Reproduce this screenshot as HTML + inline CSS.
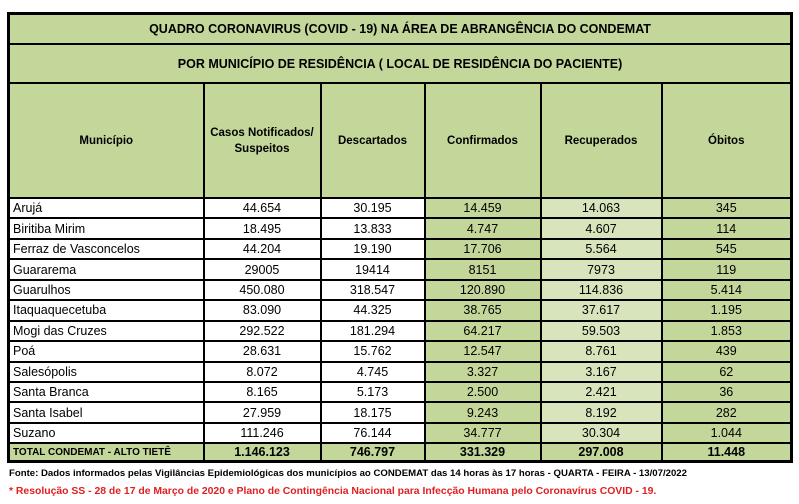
<!DOCTYPE html>
<html><head><meta charset="utf-8"><style>
body{margin:0;background:#fff;width:799px;height:504px;position:relative;overflow:hidden;font-family:"Liberation Sans",sans-serif;}
table{position:absolute;left:7px;top:12px;border-collapse:collapse;table-layout:fixed;width:783px;border:3px solid #000;}
td{border:2px solid #000;padding:0;font-size:12.5px;text-align:center;white-space:nowrap;overflow:hidden;}
.g{background:#c4d79b}.l{background:#d8e4bc}
.h td{font-weight:bold;font-size:11.5px;background:#c4d79b}
td.m{text-align:left;padding-left:3px}
tr.d td{height:18.45px}
.t td{font-weight:bold;background:#c4d79b;height:16px}
.t td.m{font-size:10px}
.f1{position:absolute;left:9px;top:468px;font-size:9.6px;font-weight:bold;color:#000}
.f2{position:absolute;left:9px;top:486px;font-size:10.4px;font-weight:bold;color:#e02020}
</style></head><body>
<table>
<colgroup><col style="width:195px"><col style="width:117px"><col style="width:104px"><col style="width:116px"><col style="width:121px"><col style="width:130px"></colgroup>
<tr class="h"><td colspan="6" style="height:28px;font-size:12.5px">QUADRO CORONAVIRUS (COVID - 19) NA ÁREA DE ABRANGÊNCIA DO CONDEMAT</td></tr>
<tr class="h"><td colspan="6" style="height:37px;font-size:12.5px">POR MUNICÍPIO DE RESIDÊNCIA ( LOCAL DE RESIDÊNCIA DO PACIENTE)</td></tr>
<tr class="h"><td style="height:113px">Município</td><td style="line-height:16px">Casos Notificados/<br>Suspeitos</td><td>Descartados</td><td>Confirmados</td><td>Recuperados</td><td>Óbitos</td></tr>
<tr class="d"><td class="m">Arujá</td><td>44.654</td><td>30.195</td><td class="g">14.459</td><td class="l">14.063</td><td class="g">345</td></tr>
<tr class="d"><td class="m">Biritiba Mirim</td><td>18.495</td><td>13.833</td><td class="g">4.747</td><td class="l">4.607</td><td class="g">114</td></tr>
<tr class="d"><td class="m">Ferraz de Vasconcelos</td><td>44.204</td><td>19.190</td><td class="g">17.706</td><td class="l">5.564</td><td class="g">545</td></tr>
<tr class="d"><td class="m">Guararema</td><td>29005</td><td>19414</td><td class="g">8151</td><td class="l">7973</td><td class="g">119</td></tr>
<tr class="d"><td class="m">Guarulhos</td><td>450.080</td><td>318.547</td><td class="g">120.890</td><td class="l">114.836</td><td class="g">5.414</td></tr>
<tr class="d"><td class="m">Itaquaquecetuba</td><td>83.090</td><td>44.325</td><td class="g">38.765</td><td class="l">37.617</td><td class="g">1.195</td></tr>
<tr class="d"><td class="m">Mogi das Cruzes</td><td>292.522</td><td>181.294</td><td class="g">64.217</td><td class="l">59.503</td><td class="g">1.853</td></tr>
<tr class="d"><td class="m">Poá</td><td>28.631</td><td>15.762</td><td class="g">12.547</td><td class="l">8.761</td><td class="g">439</td></tr>
<tr class="d"><td class="m">Salesópolis</td><td>8.072</td><td>4.745</td><td class="g">3.327</td><td class="l">3.167</td><td class="g">62</td></tr>
<tr class="d"><td class="m">Santa Branca</td><td>8.165</td><td>5.173</td><td class="g">2.500</td><td class="l">2.421</td><td class="g">36</td></tr>
<tr class="d"><td class="m">Santa Isabel</td><td>27.959</td><td>18.175</td><td class="g">9.243</td><td class="l">8.192</td><td class="g">282</td></tr>
<tr class="d"><td class="m">Suzano</td><td>111.246</td><td>76.144</td><td class="g">34.777</td><td class="l">30.304</td><td class="g">1.044</td></tr>
<tr class="t"><td class="m">TOTAL CONDEMAT - ALTO TIETÊ</td><td>1.146.123</td><td>746.797</td><td>331.329</td><td>297.008</td><td>11.448</td></tr>
</table>
<div class="f1">Fonte: Dados informados pelas Vigilâncias Epidemiológicas dos municípios ao CONDEMAT das 14 horas às 17 horas - QUARTA - FEIRA - 13/07/2022</div>
<div class="f2">* Resolução SS - 28 de 17 de Março de 2020 e Plano de Contingência Nacional para Infecção Humana pelo Coronavírus COVID - 19.</div>
</body></html>
